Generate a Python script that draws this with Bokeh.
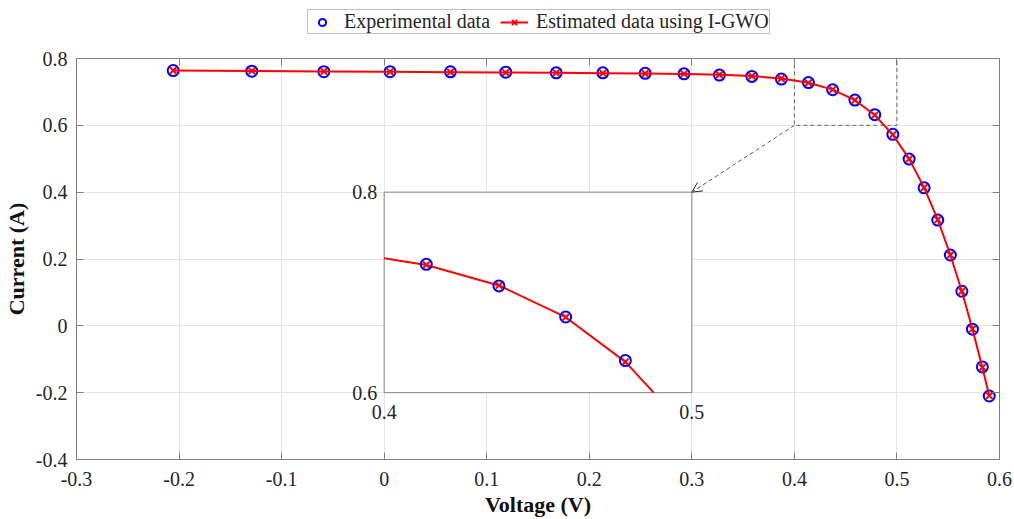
import numpy as np
from bokeh.plotting import figure
from bokeh.layouts import column
from bokeh.models import (Range1d, LinearAxis, FixedTicker, Legend, LegendItem,
                          Arrow, OpenHead, ColumnDataSource)
from bokeh.embed import file_html
from bokeh.resources import INLINE
from bokeh.core.properties import value

# I-V characteristic: measured points and the I-GWO single-diode model output
voltage = [-0.2057, -0.1291, -0.0588, 0.0057, 0.0646, 0.1185, 0.1678, 0.2132,
           0.2545, 0.2924, 0.3269, 0.3585, 0.3873, 0.4137, 0.4373, 0.4590,
           0.4784, 0.4960, 0.5119, 0.5265, 0.5398, 0.5521, 0.5633, 0.5736,
           0.5833, 0.5900]
current_exp = [0.7640, 0.7620, 0.7605, 0.7605, 0.7600, 0.7590, 0.7570, 0.7570,
               0.7555, 0.7540, 0.7505, 0.7465, 0.7385, 0.7280, 0.7065, 0.6755,
               0.6320, 0.5730, 0.4990, 0.4130, 0.3165, 0.2120, 0.1035, -0.0100,
               -0.1230, -0.2100]
current_est = [0.76409, 0.76266, 0.76135, 0.76015, 0.75905, 0.75804, 0.75709,
               0.75614, 0.75509, 0.75366, 0.75139, 0.74735, 0.74011, 0.72738,
               0.70697, 0.67528, 0.63076, 0.57193, 0.49961, 0.41365, 0.31751,
               0.21215, 0.10352, -0.00932, -0.12438, -0.20917]

x_ticks = [-0.3, -0.2, -0.1, 0.0, 0.1, 0.2, 0.3, 0.4, 0.5, 0.6]
x_tick_labels = ["-0.3", "-0.2", "-0.1", "0", "0.1", "0.2", "0.3", "0.4", "0.5", "0.6"]
y_ticks = [-0.4, -0.2, 0.0, 0.2, 0.4, 0.6, 0.8]
y_tick_labels = ["-0.4", "-0.2", "0", "0.2", "0.4", "0.6", "0.8"]

# magnified window and where its inset sits (in main-axes units)
zoom_x = [0.4, 0.5]
zoom_y = [0.6, 0.8]
zoom_x_labels = ["0.4", "0.5"]
zoom_y_labels = ["0.6", "0.8"]
inset_x = (0.0, 0.3)
inset_y = (-0.2, 0.4)

XMIN, XMAX = x_ticks[0], x_ticks[-1]
YMIN, YMAX = y_ticks[0], y_ticks[-1]

FONT = "Liberation Serif"
TXT = "#262626"
FRAME = "#808080"
BLUE = "#0000ff"
RED = "#ff0000"

W = 1014
HEAD_H = 40   # strip that carries the legend
MAIN_H = 519 - HEAD_H

p = figure(width=W, height=MAIN_H, output_backend="svg", toolbar_location=None,
           x_range=Range1d(XMIN, XMAX), y_range=Range1d(YMIN, YMAX),
           min_border_left=76, min_border_right=15, min_border_top=18,
           min_border_bottom=59)
p.background_fill_color = "white"
p.border_fill_color = "white"
p.outline_line_color = FRAME

# secondary ranges that map the magnified window onto the inset rectangle
sx = (inset_x[1] - inset_x[0]) / (zoom_x[1] - zoom_x[0])
sy = (inset_y[1] - inset_y[0]) / (zoom_y[1] - zoom_y[0])
p.extra_x_ranges = {"inset": Range1d(zoom_x[0] + (XMIN - inset_x[0]) / sx,
                                     zoom_x[0] + (XMAX - inset_x[0]) / sx)}
p.extra_y_ranges = {"inset": Range1d(zoom_y[0] + (YMIN - inset_y[0]) / sy,
                                     zoom_y[0] + (YMAX - inset_y[0]) / sy)}


def style_axis(ax, ticks, labels, show_labels=True, standoff=9):
    ax.ticker = FixedTicker(ticks=ticks)
    ax.axis_line_color = FRAME
    ax.major_tick_line_color = FRAME
    ax.major_tick_in = 7
    ax.major_tick_out = 0
    ax.minor_tick_line_color = None
    if show_labels:
        ax.major_label_overrides = {t: l for t, l in zip(ticks, labels)}
        ax.major_label_text_font = FONT
        ax.major_label_text_color = TXT
        ax.major_label_text_font_size = "20px"
        ax.major_label_standoff = standoff
    else:
        ax.major_label_overrides = {t: "" for t in ticks}
        ax.major_label_text_font_size = "4px"
        ax.major_label_standoff = 0


style_axis(p.xaxis[0], x_ticks, x_tick_labels, standoff=12)
style_axis(p.yaxis[0], y_ticks, y_tick_labels, standoff=9)
p.xaxis.axis_label = "Voltage (V)"
p.yaxis.axis_label = "Current (A)"
for ax in (p.xaxis[0], p.yaxis[0]):
    ax.axis_label_text_font = FONT
    ax.axis_label_text_font_style = "bold"
    ax.axis_label_text_font_size = "22px"
    ax.axis_label_text_color = "#111111"
p.xaxis.axis_label_standoff = 3
p.yaxis.axis_label_standoff = 4

top_axis = LinearAxis()
style_axis(top_axis, x_ticks, x_tick_labels, show_labels=False)
right_axis = LinearAxis()
style_axis(right_axis, y_ticks, y_tick_labels, show_labels=False)
p.add_layout(top_axis, "above")
p.add_layout(right_axis, "right")

p.xgrid.ticker = FixedTicker(ticks=x_ticks)
p.ygrid.ticker = FixedTicker(ticks=y_ticks)
p.grid.grid_line_color = "#e4e4e4"
p.grid.grid_line_width = 1

src = ColumnDataSource(dict(v=voltage, ie=current_exp, im=current_est))

# dashed marker of the magnified region
p.quad(left=[zoom_x[0]], right=[zoom_x[1]], bottom=[zoom_y[0]], top=[zoom_y[1]],
       fill_alpha=0, line_color="#666666", line_width=1, line_dash="4 3")

# main curves
p.scatter("v", "ie", source=src, marker="circle", size=11,
          fill_alpha=0, line_color=BLUE, line_width=2)
p.line("v", "im", source=src, line_color=RED, line_width=2)
p.scatter("v", "im", source=src, marker="x", size=9, line_color=RED, line_width=2)

# inset panel
p.quad(left=[zoom_x[0]], right=[zoom_x[1]], bottom=[zoom_y[0]], top=[zoom_y[1]],
       x_range_name="inset", y_range_name="inset",
       fill_color="white", line_color=FRAME, line_width=1)


def clip_polyline(x, y, x0, x1, y0, y1):
    """Clip a polyline to a rectangle (Liang-Barsky per segment)."""
    ox, oy = [], []
    for i in range(len(x) - 1):
        ax_, ay_, bx_, by_ = x[i], y[i], x[i + 1], y[i + 1]
        dx, dy = bx_ - ax_, by_ - ay_
        t0, t1 = 0.0, 1.0
        ok = True
        for pp, qq in ((-dx, ax_ - x0), (dx, x1 - ax_), (-dy, ay_ - y0), (dy, y1 - ay_)):
            if pp == 0:
                if qq < 0:
                    ok = False
                    break
            else:
                r = qq / pp
                if pp < 0:
                    t0 = max(t0, r)
                else:
                    t1 = min(t1, r)
        if not ok or t0 > t1:
            continue
        sx0, sy0 = ax_ + t0 * dx, ay_ + t0 * dy
        sx1, sy1 = ax_ + t1 * dx, ay_ + t1 * dy
        if ox and (abs(ox[-1] - sx0) > 1e-12 or abs(oy[-1] - sy0) > 1e-12):
            ox.append(np.nan)
            oy.append(np.nan)
        if not ox or np.isnan(ox[-1]):
            ox.append(sx0)
            oy.append(sy0)
        ox.append(sx1)
        oy.append(sy1)
    return ox, oy


cx, cy = clip_polyline(voltage, current_est, zoom_x[0], zoom_x[1], zoom_y[0], zoom_y[1])
p.line(cx, cy, x_range_name="inset", y_range_name="inset", line_color=RED, line_width=2)

v_arr = np.array(voltage)
ie_arr = np.array(current_exp)
im_arr = np.array(current_est)
mask = (v_arr >= zoom_x[0]) & (v_arr <= zoom_x[1]) & (ie_arr >= zoom_y[0]) & (ie_arr <= zoom_y[1])
isrc = ColumnDataSource(dict(v=v_arr[mask], ie=ie_arr[mask], im=im_arr[mask]))
p.scatter("v", "ie", source=isrc, marker="circle", size=11, fill_alpha=0,
          line_color=BLUE, line_width=2, x_range_name="inset", y_range_name="inset")
p.scatter("v", "im", source=isrc, marker="x", size=9, line_color=RED,
          line_width=2, x_range_name="inset", y_range_name="inset")

# inset tick labels
p.text(x=[zoom_x[0]] * 2, y=zoom_y, text=zoom_y_labels,
       x_range_name="inset", y_range_name="inset",
       text_font=value(FONT), text_font_size="20px", text_color=TXT,
       text_align="right", text_baseline="middle", x_offset=-7)
p.text(x=zoom_x, y=[zoom_y[0]] * 2, text=zoom_x_labels,
       x_range_name="inset", y_range_name="inset",
       text_font=value(FONT), text_font_size="20px", text_color=TXT,
       text_align="center", text_baseline="top", y_offset=12)

# connector from the marked window to the inset
p.add_layout(Arrow(x_start=zoom_x[0], y_start=zoom_y[0],
                   x_end=inset_x[1], y_end=inset_y[1],
                   line_color="#555555", line_width=1, line_dash="4 3",
                   end=OpenHead(size=10, line_color="#222222", line_width=1)))

# header strip holding the legend; its view window lies far from the data,
# so the renderers only lend their styles to the legend entries
head = figure(width=W, height=HEAD_H, output_backend="svg", toolbar_location=None,
              x_range=Range1d(10, 11), y_range=Range1d(10, 11),
              min_border_left=76, min_border_right=15, min_border_top=0,
              min_border_bottom=0)
head.axis.visible = False
head.grid.visible = False
head.outline_line_color = None
head.background_fill_color = "white"
head.border_fill_color = "white"
lg_circ = head.scatter("v", "ie", source=src, marker="circle", size=11,
                       fill_alpha=0, line_color=BLUE, line_width=2)
lg_line = head.line("v", "im", source=src, line_color=RED, line_width=2)
lg_x = head.scatter("v", "im", source=src, marker="x", size=9,
                    line_color=RED, line_width=2)

legend = Legend(items=[LegendItem(label="Experimental data", renderers=[lg_circ]),
                       LegendItem(label="Estimated data using I-GWO",
                                  renderers=[lg_line, lg_x])],
                orientation="horizontal", location=(231, 6),
                label_text_font=FONT, label_text_font_size="20px", label_text_color=TXT,
                border_line_color=FRAME, border_line_width=1,
                background_fill_color="white", background_fill_alpha=1,
                padding=0, spacing=10, glyph_width=28, glyph_height=18,
                label_height=18, label_standoff=8, margin=0)
head.add_layout(legend, "center")

layout = column(head, p, spacing=0)
open("out.html", "w").write(file_html(layout, INLINE))
